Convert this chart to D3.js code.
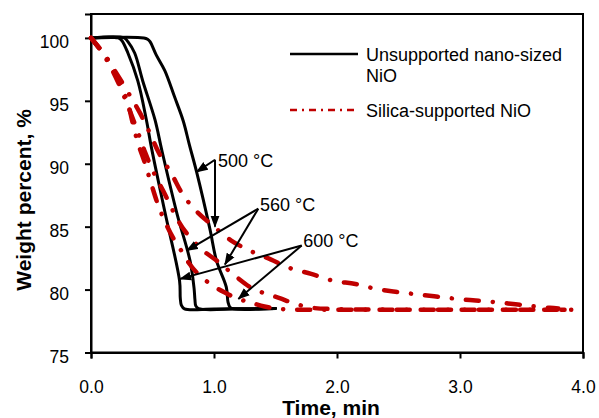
<!DOCTYPE html>
<html>
<head>
<meta charset="utf-8">
<script src="https://cdn.jsdelivr.net/npm/d3@7"></script>
<style>
  html, body { margin: 0; padding: 0; background: #fff; }
  svg { display: block; font-family: "Liberation Sans", Arial, sans-serif; }
</style>
</head>
<body>
<svg id="chart" width="599" height="418"></svg>
<script>
// Weight loss (TGA) of NiO reduction, time in minutes vs weight percent
const xTicks = [0, 1, 2, 3, 4];
const yTicks = [75, 80, 85, 90, 95, 100];

// Unsupported nano-sized NiO: [time, weight %]
const unsup600 = [[0,100],[0.22,100],[0.25,99.8],[0.30,98.8],[0.38,96.6],[0.45,93.5],[0.493,91.2],[0.60,86.2],[0.72,80.7],[0.726,79.3],[0.735,78.75],[0.76,78.47],[1.0,78.46],[1.5,78.5]];
const unsup560 = [[0,100],[0.27,100],[0.30,99.7],[0.355,98.8],[0.42,96.6],[0.52,93.5],[0.575,91.1],[0.70,86.0],[0.805,82.3],[0.838,80.1],[0.845,79.2],[0.852,78.7],[0.875,78.48],[1.2,78.47],[1.5,78.5]];
const unsup500 = [[0,100],[0.43,100],[0.46,99.9],[0.48,99.7],[0.53,98.65],[0.60,97.4],[0.68,95.3],[0.75,93.4],[0.80,91.5],[0.86,89.3],[0.967,84.8],[1.02,82.3],[1.10,80.2],[1.114,79.0],[1.13,78.6],[1.16,78.47],[1.5,78.5]];

// Silica-supported NiO: [time, weight %]
const silica600 = [[0,100],[0.05,99.4],[0.11,98.7],[0.18,97.45],[0.25,96.1],[0.30,94.8],[0.34,93.2],[0.38,91.7],[0.44,90.0],[0.49,88.4],[0.55,86.6],[0.62,85.0],[0.68,83.9],[0.74,83.0],[0.80,82.05],[0.87,81.25],[0.97,80.45],[1.08,79.8],[1.20,79.25],[1.29,79.0],[1.41,78.65],[1.55,78.45],[2.0,78.4],[3.0,78.4],[3.92,78.4]];
const silica560 = [[0,100],[0.10,98.7],[0.20,96.9],[0.30,94.6],[0.385,92.4],[0.44,90.9],[0.51,89.3],[0.60,87.6],[0.68,86.0],[0.76,84.7],[0.90,83.2],[1.035,82.2],[1.17,81.1],[1.32,80.05],[1.45,79.6],[1.54,79.3],[1.65,78.9],[1.80,78.55],[2.0,78.45],[3.0,78.4],[3.85,78.4]];
const silica500 = [[0,100],[0.10,98.8],[0.20,97.3],[0.33,95.2],[0.40,94.0],[0.48,92.4],[0.55,90.9],[0.66,89.1],[0.75,87.5],[0.86,86.2],[1.0,85.0],[1.14,83.9],[1.30,83.05],[1.46,82.4],[1.62,81.7],[1.79,81.25],[1.97,80.7],[2.15,80.45],[2.32,80.05],[2.50,79.8],[2.67,79.6],[2.85,79.4],[3.03,79.2],[3.21,79.07],[3.39,78.9],[3.57,78.7],[3.73,78.55],[3.80,78.5]];

// Temperature labels: text anchor, arrow origin and arrow tips, in data units
const tempLabels = [
  { text: "500 °C", at: [1.033, 89.72], from: [1.008, 90.32], tips: [[0.859, 89.35], [1.008, 85.0]] },
  { text: "560 °C", at: [1.374, 86.22], from: [1.36, 86.43], tips: [[0.778, 83.1], [1.089, 82.0]] },
  { text: "600 °C", at: [1.726, 83.35], from: [1.713, 83.5], tips: [[0.724, 80.85], [1.198, 79.26]] }
];

const svg = d3.select("#chart");
const x = d3.scaleLinear().domain([0, 4]).range([91, 583]);
const y = d3.scaleLinear().domain([75, 101.9]).range([352.5, 14]);

// arrowhead marker
svg.append("defs").append("marker")
  .attr("id", "arrow")
  .attr("markerUnits", "userSpaceOnUse")
  .attr("markerWidth", 12).attr("markerHeight", 10)
  .attr("viewBox", "0 0 12 10")
  .attr("refX", 11).attr("refY", 5)
  .attr("orient", "auto")
  .append("path").attr("d", "M0,0.5 L12,5 L0,9.5 Z").attr("fill", "#000");

// plot frame
svg.append("rect")
  .attr("x", x(0)).attr("y", y(101.9))
  .attr("width", x(4) - x(0)).attr("height", y(75) - y(101.9))
  .attr("fill", "none").attr("stroke", "#000").attr("stroke-width", 2);

// axes
const xAxis = svg.append("g").attr("transform", `translate(0,${y(75)})`)
  .call(d3.axisBottom(x).tickValues(xTicks).tickFormat(d3.format(".1f")).tickSize(6).tickPadding(22));
const yAxis = svg.append("g").attr("transform", `translate(${x(0)},0)`)
  .call(d3.axisLeft(y).tickValues(yTicks).tickFormat(d3.format("d")).tickSize(6).tickPadding(16));
[xAxis, yAxis].forEach(g => {
  g.select(".domain").attr("stroke", "#000").attr("stroke-width", 2);
  g.selectAll(".tick line").attr("stroke", "#000").attr("stroke-width", 2);
  g.selectAll(".tick text").attr("fill", "#000").attr("font-size", 17.5)
    .attr("font-family", "'Liberation Sans', Arial, sans-serif");
});
yAxis.selectAll(".tick text").attr("dy", "0.55em");

// axis titles
svg.append("text")
  .attr("x", (x(0) + x(4)) / 2 - 6).attr("y", 415)
  .attr("text-anchor", "middle").attr("font-size", 21).attr("font-weight", "bold")
  .text("Time, min");
svg.append("text")
  .attr("transform", `translate(31,${200}) rotate(-90)`)
  .attr("text-anchor", "middle").attr("font-size", 21).attr("font-weight", "bold")
  .text("Weight percent, %");

const line = d3.line().x(d => x(d[0])).y(d => y(d[1])).curve(d3.curveCatmullRom.alpha(0.5));

// unsupported series (solid black)
[unsup600, unsup560, unsup500].forEach(s => {
  svg.append("path").datum(s).attr("d", line)
    .attr("fill", "none").attr("stroke", "#000").attr("stroke-width", 3)
    .attr("stroke-linejoin", "round").attr("stroke-linecap", "round");
});

// silica-supported series (dash-dot red)
[silica600, silica560, silica500].forEach(s => {
  svg.append("path").datum(s).attr("d", line)
    .attr("fill", "none").attr("stroke", "#c00000").attr("stroke-width", 4.5)
    .attr("stroke-dasharray", "13,14,0.1,14")
    .attr("stroke-linejoin", "round").attr("stroke-linecap", "round");
});

// temperature annotations
tempLabels.forEach(a => {
  a.tips.forEach(t => {
    svg.append("line")
      .attr("x1", x(a.from[0])).attr("y1", y(a.from[1]))
      .attr("x2", x(t[0])).attr("y2", y(t[1]))
      .attr("stroke", "#000").attr("stroke-width", 2)
      .attr("marker-end", "url(#arrow)");
  });
  svg.append("text")
    .attr("x", x(a.at[0])).attr("y", y(a.at[1]))
    .attr("font-size", 18).attr("fill", "#000")
    .text(a.text);
});

// legend
const legend = svg.append("g");
legend.append("line").attr("x1", 290).attr("x2", 358).attr("y1", 54).attr("y2", 54)
  .attr("stroke", "#000").attr("stroke-width", 2.5);
legend.append("text").attr("x", 366).attr("y", 61).attr("font-size", 18).text("Unsupported nano-sized");
legend.append("text").attr("x", 366).attr("y", 81.5).attr("font-size", 18).text("NiO");
legend.append("line").attr("x1", 290).attr("x2", 358).attr("y1", 110).attr("y2", 110)
  .attr("stroke", "#c00000").attr("stroke-width", 2.5).attr("stroke-dasharray", "7,5,2,5");
legend.append("text").attr("x", 366).attr("y", 116.5).attr("font-size", 18).text("Silica-supported NiO");
</script>
</body>
</html>
